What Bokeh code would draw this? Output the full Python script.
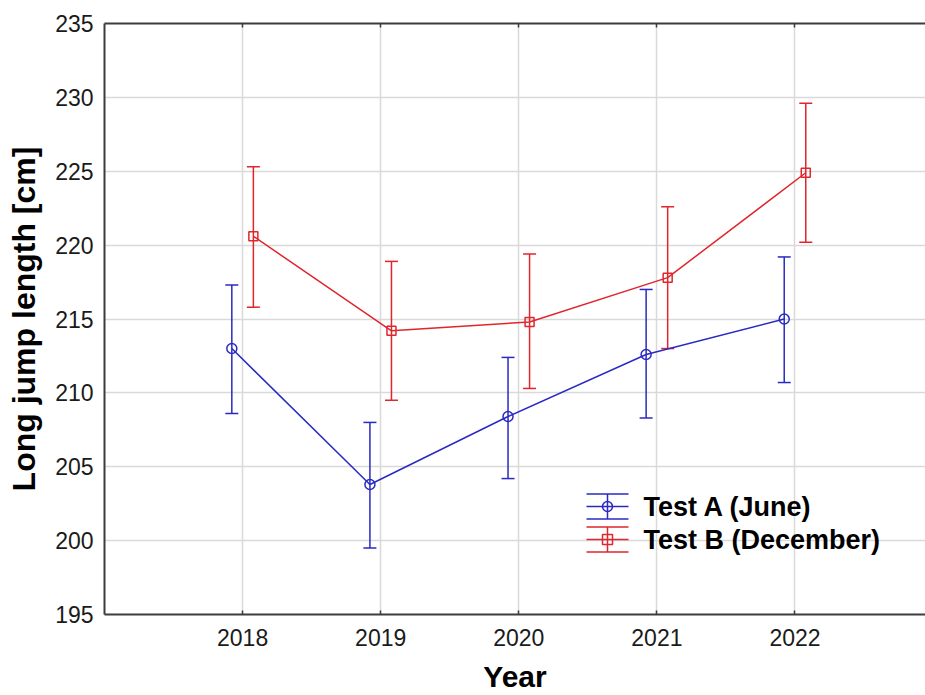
import numpy as np
from bokeh.plotting import figure
from bokeh.models import (ColumnDataSource, Whisker, TeeHead, FixedTicker, LinearAxis,
                          Range1d, Label, Arrow, BoxAnnotation)
from bokeh.embed import file_html
from bokeh.resources import INLINE

# ---- data ----
years = [2018, 2019, 2020, 2021, 2022]
a_mean = [213.0, 203.8, 208.4, 212.6, 215.0]
a_upper = [217.3, 208.0, 212.4, 217.0, 219.2]
a_lower = [208.6, 199.5, 204.2, 208.3, 210.7]
b_mean = [220.6, 214.2, 214.8, 217.8, 224.9]
b_upper = [225.3, 218.9, 219.4, 222.6, 229.6]
b_lower = [215.8, 209.5, 210.3, 213.0, 220.2]
y_ticks = [195, 200, 205, 210, 215, 220, 225, 230, 235]
series_names = ["Test A (June)", "Test B (December)"]
x_title = "Year"
y_title = "Long jump length [cm]"

BLUE = "#2a2ac2"
RED = "#e0262c"
FONT = "Liberation Sans"
DODGE = 0.078

p = figure(width=925, height=695, output_backend="svg", toolbar_location=None,
           x_range=Range1d(2017, 2022.945), y_range=Range1d(195, 235),
           min_border_left=104, min_border_right=0, min_border_top=23, min_border_bottom=81)
p.outline_line_color = None
p.background_fill_color = "white"
p.border_fill_color = "white"

# grids
p.xgrid.ticker = FixedTicker(ticks=years)
p.ygrid.ticker = FixedTicker(ticks=y_ticks)
for g in (p.xgrid[0], p.ygrid[0]):
    g.grid_line_color = "#d9d9d9"
    g.grid_line_width = 1.5

# bottom axis
xa = p.xaxis[0]
xa.ticker = FixedTicker(ticks=years)
xa.major_tick_in = 4
xa.major_tick_out = 0
xa.minor_tick_line_color = None
xa.axis_line_color = "#3c3c3c"
xa.axis_line_width = 2
xa.major_tick_line_color = "#3c3c3c"
xa.major_tick_line_width = 1.5
xa.major_label_text_font = FONT
xa.major_label_text_font_size = "23px"
xa.major_label_text_color = "#1a1a1a"
xa.major_label_standoff = 14
xa.axis_label = x_title
xa.axis_label_text_font = FONT
xa.axis_label_text_font_size = "30px"
xa.axis_label_text_font_style = "bold"
xa.axis_label_text_color = "black"
xa.axis_label_standoff = 11

# left axis
ya = p.yaxis[0]
ya.ticker = FixedTicker(ticks=y_ticks)
ya.major_tick_in = 0
ya.major_tick_out = 0
ya.minor_tick_line_color = None
ya.axis_line_color = "#3c3c3c"
ya.axis_line_width = 2
ya.major_label_text_font = FONT
ya.major_label_text_font_size = "23px"
ya.major_label_text_color = "#1a1a1a"
ya.major_label_standoff = 11
ya.axis_label = y_title
ya.axis_label_text_font = FONT
ya.axis_label_text_font_size = "32px"
ya.axis_label_text_font_style = "bold"
ya.axis_label_text_color = "black"
ya.axis_label_standoff = 10

# top axis line with inward ticks (no labels)
ta = LinearAxis(ticker=FixedTicker(ticks=years))
ta.major_label_text_font_size = "1px"
ta.major_label_text_color = None
ta.major_label_standoff = 0
ta.major_tick_in = 4
ta.major_tick_out = 0
ta.minor_tick_line_color = None
ta.axis_line_color = "#3c3c3c"
ta.axis_line_width = 2
ta.major_tick_line_color = "#3c3c3c"
ta.major_tick_line_width = 1.5
p.add_layout(ta, "above")

# series
series = [
    (a_mean, a_upper, a_lower, -DODGE, BLUE, "circle", 10),
    (b_mean, b_upper, b_lower, DODGE, RED, "square", 9),
]
for mean, up, lo, off, col, mk, sz in series:
    src = ColumnDataSource(dict(x=[y + off for y in years], mean=mean, up=up, lo=lo))
    p.line("x", "mean", source=src, line_color=col, line_width=1.5)
    w = Whisker(source=src, base="x", upper="up", lower="lo", dimension="height",
                line_color=col, line_width=1.5,
                upper_head=TeeHead(size=13, line_color=col, line_width=1.5),
                lower_head=TeeHead(size=13, line_color=col, line_width=1.5))
    p.add_layout(w)
    p.scatter("x", "mean", source=src, marker=mk, size=sz, fill_color=None,
              line_color=col, line_width=1.5)

# legend (drawn manually, screen units relative to the frame)
def seg(x0, y0, x1, y1, col):
    p.add_layout(Arrow(x_start=x0, y_start=y0, x_end=x1, y_end=y1,
                       start_units="screen", end_units="screen", end=None,
                       line_color=col, line_width=1.5))

legend_rows = [(108, BLUE, 5), (75, RED, 0)]
for (ym, col, rad), name in zip(legend_rows, series_names):
    x0, x1, xc = 482, 524, 503
    seg(x0, ym + 12.5, x1, ym + 12.5, col)
    seg(x0, ym, x1, ym, col)
    seg(x0, ym - 12.5, x1, ym - 12.5, col)
    seg(xc, ym - 12.5, xc, ym + 12.5, col)
    p.add_layout(BoxAnnotation(left=xc - 5, right=xc + 5, bottom=ym - 5, top=ym + 5,
                               left_units="screen", right_units="screen",
                               bottom_units="screen", top_units="screen",
                               fill_color=None, fill_alpha=0, line_color=col, line_alpha=1,
                               line_width=1.5, border_radius=rad))
    p.add_layout(Label(x=539, y=ym, x_units="screen", y_units="screen", text=name,
                       text_baseline="middle", text_align="left", text_font=FONT,
                       text_font_size="27px", text_font_style="bold", text_color="black"))

open("out.html", "w").write(file_html(p, INLINE))
